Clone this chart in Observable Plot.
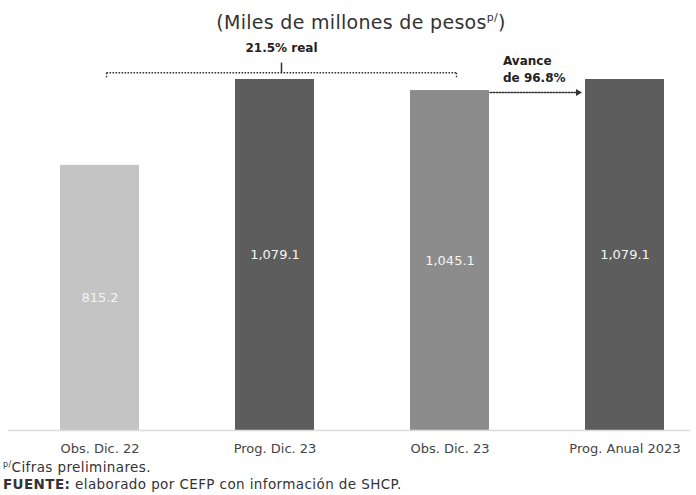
<!DOCTYPE html>
<html>
<head>
<meta charset="utf-8">
<script src="https://cdn.jsdelivr.net/npm/d3@7"></script>
<script src="https://cdn.jsdelivr.net/npm/@observablehq/plot@0.6"></script>
<style>
  html, body { margin: 0; padding: 0; background: #fff; width: 696px; height: 495px; overflow: hidden; }
  body { font-family: "DejaVu Sans", sans-serif; color: #222; }
  #title { height: 36px; line-height: 44px; font-size: 19px; letter-spacing: 0.3px; text-align: center; padding-left: 26px; color: #333; white-space: nowrap; }
  #title sup { font-size: 11px; vertical-align: 0; position: relative; top: -8px; }
  #notes { font-size: 13.5px; line-height: 15px; letter-spacing: 0.4px; padding-left: 3px; margin-top: 0px; color: #333; white-space: nowrap; }
  #notes sup { font-size: 8px; vertical-align: 0; position: relative; top: -5px; }
  svg { display: block; }
</style>
</head>
<body>
<div id="title">(Miles de millones de pesos<sup>p/</sup>)</div>
<div id="chart"></div>
<div id="notes">
  <div><sup>p/</sup>Cifras preliminares.</div>
  <div><b>FUENTE:</b> elaborado por CEFP con información de SHCP.</div>
</div>
<script>
const categories = ["Obs. Dic. 22", "Prog. Dic. 23", "Obs. Dic. 23", "Prog. Anual 2023"];
const values = [815.2, 1079.1, 1045.1, 1079.1];
const barColors = ["#c4c4c4", "#5d5d5d", "#8c8c8c", "#5d5d5d"];
const growthLabel = "21.5% real";
const growthFrom = "Obs. Dic. 22";
const growthMid = "Prog. Dic. 23";
const growthTo = "Obs. Dic. 23";
const advanceLabel = "Avance\nde 96.8%";
const advanceFrom = "Obs. Dic. 23";
const advanceTo = "Prog. Anual 2023";

const data = categories.map((c, i) => ({cat: c, value: values[i], color: barColors[i]}));
const fmt = d3.format(",.1f");

// annotation heights (in data units of the y scale)
const bracketY = 1100, bracketEndY = 1082, bracketTopY = 1131, labelY = 1174, arrowY = 1039, advanceY = 1114;
const dotted = {stroke: "#333", strokeWidth: 1.4, strokeDasharray: "1.6,1.4"};

const chart = Plot.plot({
  width: 696,
  height: 424,
  marginTop: 43,
  marginBottom: 30,
  marginLeft: 8,
  marginRight: 6,
  x: {domain: categories, paddingInner: 0.549, paddingOuter: 0.22, align: 0.669, label: null, tickSize: 0, tickPadding: 13},
  y: {domain: [0, 1079.1], axis: null},
  color: {type: "identity"},
  style: {fontFamily: "DejaVu Sans", fontSize: "13px", color: "#444", overflow: "visible"},
  marks: [
    Plot.barY(data, {x: "cat", y: "value", fill: "color"}),
    Plot.ruleY([0], {stroke: "#dcdcdc", strokeWidth: 1.5}),
    Plot.text(data, {x: "cat", y: d => d.value / 2, text: d => fmt(d.value), fill: "#f4f4f4", fontSize: 13}),
    // bracket for real growth
    Plot.link([{a: growthFrom, b: growthTo}], {x1: "a", x2: "b", y1: bracketY, y2: bracketY, dx: 6.5, ...dotted}),
    Plot.link([{a: growthFrom}, {a: growthTo}], {x1: "a", x2: "a", y1: bracketY, y2: bracketEndY, dx: 6.5, ...dotted}),
    Plot.link([{a: growthMid}], {x1: "a", x2: "a", y1: bracketY, y2: bracketTopY, dx: 6.5, stroke: "#333", strokeWidth: 1.5}),
    Plot.text([{a: growthMid, t: growthLabel}], {x: "a", y: labelY, text: "t", dx: 6.5, fontWeight: "bold", fontSize: 12, fill: "#222"}),
    // advance arrow
    Plot.arrow([{a: advanceFrom, b: advanceTo}], {x1: "a", x2: "b", y1: arrowY, y2: arrowY, insetStart: 40, insetEnd: 48, headLength: 0, ...dotted}),
    Plot.dot([{b: advanceTo}], {x: "b", y: arrowY, dx: -47, symbol: "triangle", rotate: 90, r: 2.6, fill: "#333", stroke: null}),
    Plot.text([{a: advanceFrom, t: advanceLabel}], {x: "a", y: advanceY, text: "t", dx: 53, textAnchor: "start", lineHeight: 1.4, fontWeight: "bold", fontSize: 12, fill: "#222"})
  ]
});
document.getElementById("chart").appendChild(chart);
</script>
</body>
</html>
